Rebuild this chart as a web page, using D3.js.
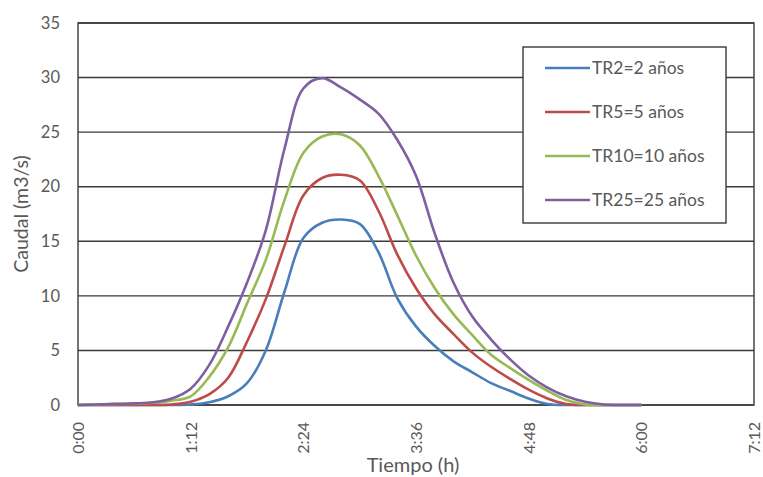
<!DOCTYPE html>
<html>
<head>
<meta charset="utf-8">
<script src="https://cdn.jsdelivr.net/npm/d3@7"></script>
<style>
  body { margin: 0; background: #fff; }
  text { font-family: Lato, "Open Sans", sans-serif; fill: #595959; }
</style>
</head>
<body>
<div id="chart"></div>
<script>
// time in minutes from start
const minutes = [0, 12, 24, 36, 48, 60, 72, 84, 96, 108, 120, 132, 144, 156, 168, 180,
  192, 204, 216, 228, 240, 252, 264, 276, 288, 300, 312, 324, 336, 348, 360];

const tr2 = [0, 0, 0, 0, 0, 0, 0.05, 0.25, 0.8, 2.0, 5.0, 10.4, 15.3, 16.7, 17.0, 16.6,
  14.0, 9.8, 7.2, 5.4, 4.0, 3.0, 2.0, 1.3, 0.6, 0.1, 0, 0, 0, 0, 0];
const tr5 = [0, 0, 0, 0, 0, 0.05, 0.3, 1.0, 2.5, 5.8, 9.7, 14.6, 19.2, 20.8, 21.1, 20.6,
  17.8, 13.8, 10.7, 8.3, 6.5, 4.8, 3.5, 2.4, 1.4, 0.6, 0.1, 0, 0, 0, 0];
const tr10 = [0, 0.05, 0.08, 0.12, 0.2, 0.4, 0.8, 2.6, 5.3, 9.3, 13.3, 18.8, 23.1, 24.6, 24.8, 23.8,
  21.0, 17.4, 13.7, 10.7, 8.3, 6.4, 4.6, 3.4, 2.3, 1.3, 0.45, 0.05, 0, 0, 0];
const tr25 = [0, 0.05, 0.1, 0.15, 0.25, 0.6, 1.5, 3.7, 7.2, 11.2, 16.0, 23.5, 29.0, 29.95, 29.1, 28.0,
  26.7, 24.3, 21.0, 15.7, 11.2, 8.1, 6.0, 4.2, 2.7, 1.6, 0.8, 0.3, 0.05, 0, 0];

const seriesNames = ["TR2=2 años", "TR5=5 años", "TR10=10 años", "TR25=25 años"];
const seriesColors = ["#4a7ebb", "#be4b48", "#98b954", "#7d60a0"];
const xTicks = [0, 72, 144, 216, 288, 360, 432];
const yTicks = [0, 5, 10, 15, 20, 25, 30, 35];

const W = 763, H = 477;
const margin = { top: 23, right: 9, bottom: 72, left: 78 };
const width = W - margin.left - margin.right;
const height = H - margin.top - margin.bottom;

const svg = d3.select("#chart").append("svg")
  .attr("width", W)
  .attr("height", H);

const g = svg.append("g")
  .attr("transform", `translate(${margin.left},${margin.top})`);

const x = d3.scaleLinear().domain([0, 432]).range([0, width]);
const y = d3.scaleLinear().domain([0, 35]).range([height, 0]);

const fmt = m => `${Math.floor(m / 60)}:${String(m % 60).padStart(2, "0")}`;

// gridlines
g.selectAll(".grid")
  .data(yTicks)
  .enter().append("line")
  .attr("x1", 0).attr("x2", width)
  .attr("y1", d => y(d)).attr("y2", d => y(d))
  .attr("stroke", "#3a3a3a")
  .attr("stroke-width", 1.4);

// frame
g.append("rect")
  .attr("width", width).attr("height", height)
  .attr("fill", "none")
  .attr("stroke", "#3a3a3a")
  .attr("stroke-width", 1.4);

// y axis labels
const yAxis = d3.axisLeft(y).tickValues(yTicks).tickSize(0).tickPadding(18);
g.append("g").call(yAxis)
  .call(a => a.select(".domain").remove())
  .selectAll("text")
  .style("font-size", "16.5px")
  .attr("fill", "#595959");

// x axis labels (rotated)
const xAxis = d3.axisBottom(x).tickValues(xTicks).tickFormat(fmt).tickSize(0);
g.append("g")
  .attr("transform", `translate(0,${height})`)
  .call(xAxis)
  .call(a => a.select(".domain").remove())
  .selectAll("text")
  .style("font-size", "16px")
  .attr("fill", "#595959")
  .attr("text-anchor", "end")
  .attr("transform", "rotate(-90)")
  .attr("x", -17)
  .attr("y", 0)
  .attr("dy", "0.35em");

// series lines
const seriesData = [tr2, tr5, tr10, tr25];
const line = d3.line()
  .x((d, i) => x(minutes[i]))
  .y(d => y(Math.max(0, d)))
  .curve(d3.curveCatmullRom.alpha(0.5));

g.selectAll(".series")
  .data(seriesData)
  .enter().append("path")
  .attr("d", line)
  .attr("fill", "none")
  .attr("stroke", (d, i) => seriesColors[i])
  .attr("stroke-width", 2.6)
  .attr("stroke-linejoin", "round");

// axis titles
svg.append("text")
  .attr("x", margin.left + width / 2 - 3)
  .attr("y", 472)
  .attr("text-anchor", "middle")
  .style("font-size", "20px")
  .text("Tiempo (h)");

svg.append("text")
  .attr("transform", `translate(28,${margin.top + height / 2}) rotate(-90)`)
  .attr("text-anchor", "middle")
  .style("font-size", "19.5px")
  .text("Caudal (m3/s)");

// legend
const legend = svg.append("g").attr("transform", "translate(523,47)");
legend.append("rect")
  .attr("width", 203).attr("height", 176)
  .attr("fill", "#fff")
  .attr("stroke", "#3a3a3a")
  .attr("stroke-width", 1.4);

const items = legend.selectAll(".item")
  .data(seriesNames)
  .enter().append("g")
  .attr("transform", (d, i) => `translate(0,${21 + i * 44})`);

items.append("line")
  .attr("x1", 22).attr("x2", 67)
  .attr("stroke", (d, i) => seriesColors[i])
  .attr("stroke-width", 2.6);

items.append("text")
  .attr("x", 69)
  .attr("dy", "0.35em")
  .style("font-size", "17.5px")
  .text(d => d);
</script>
</body>
</html>
